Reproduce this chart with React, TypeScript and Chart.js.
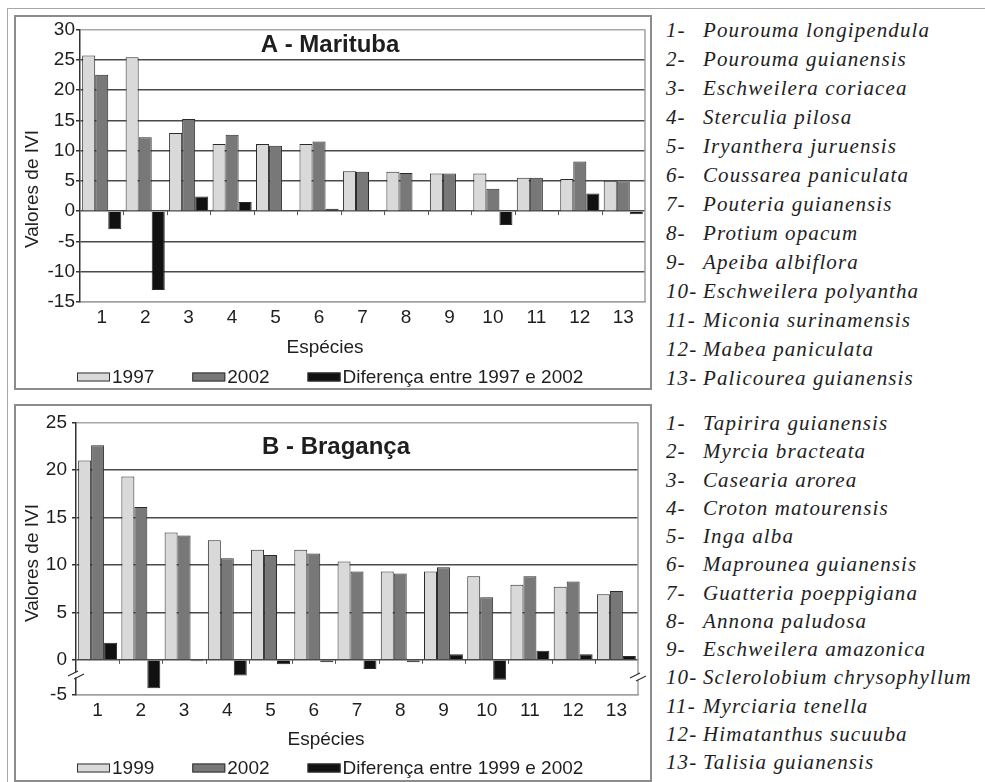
import React, { useEffect, useRef } from "react";
import { Chart, registerables } from "chart.js";

Chart.register(...registerables);

const SANS = '"Liberation Sans", Arial, Helvetica, sans-serif';
const SERIF = '"Liberation Serif", "Times New Roman", Times, serif';
const INK = "#1e1e1e";

// Species numbers along the x axis
const speciesNumbers = ["1", "2", "3", "4", "5", "6", "7", "8", "9", "10", "11", "12", "13"];

// A - Marituba: IVI values
const maritubaIvi1997 = [25.7, 25.4, 12.9, 11.1, 11.1, 11.1, 6.6, 6.5, 6.2, 6.2, 5.5, 5.3, 5.0];
const maritubaIvi2002 = [22.5, 12.2, 15.2, 12.6, 10.8, 11.5, 6.5, 6.3, 6.2, 3.7, 5.5, 8.2, 4.9];
const maritubaDiff = [-3.0, -13.0, 2.4, 1.5, 0, 0.4, -0.15, 0, 0, -2.3, 0.2, 2.9, -0.5];
const maritubaTicks = [-15, -10, -5, 0, 5, 10, 15, 20, 25, 30];

// B - Bragança: IVI values
const bragancaIvi1999 = [21.0, 19.3, 13.4, 12.6, 11.6, 11.6, 10.35, 9.3, 9.3, 8.8, 7.9, 7.7, 6.9];
const bragancaIvi2002 = [22.6, 16.1, 13.1, 10.7, 11.05, 11.2, 9.3, 9.1, 9.75, 6.6, 8.8, 8.25, 7.25];
const bragancaDiff = [1.8, -3.0, -0.15, -1.65, -0.45, -0.25, -0.95, -0.25, 0.6, -2.1, 0.95, 0.6, 0.4];
const bragancaTicks = [-5, 0, 5, 10, 15, 20, 25];
// the y axis is broken below zero: the "-5" label sits on the truncated floor
const bragancaAxisFloor = -3.7;

const maritubaSpecies = [
  "Pourouma longipendula",
  "Pourouma guianensis",
  "Eschweilera coriacea",
  "Sterculia pilosa",
  "Iryanthera juruensis",
  "Coussarea paniculata",
  "Pouteria guianensis",
  "Protium opacum",
  "Apeiba albiflora",
  "Eschweilera polyantha",
  "Miconia surinamensis",
  "Mabea paniculata",
  "Palicourea guianensis",
];

const bragancaSpecies = [
  "Tapirira guianensis",
  "Myrcia bracteata",
  "Casearia arorea",
  "Croton matourensis",
  "Inga alba",
  "Maprounea guianensis",
  "Guatteria poeppigiana",
  "Annona paludosa",
  "Eschweilera amazonica",
  "Sclerolobium chrysophyllum",
  "Myrciaria tenella",
  "Himatanthus sucuuba",
  "Talisia guianensis",
];

const COLOR_FIRST = "#d9d9d9";
const COLOR_SECOND = "#787878";
const COLOR_DIFF = "#111111";

type Deco = {
  title: string;
  titleX: number;
  titleY: number;
  yTitleX: number;
  yTitleY: number;
  xTitleX: number;
  xTitleY: number;
  legendX: number;
  legendY: number;
  breakLeftY?: number;
  breakRightY?: number;
};

function drawBreak(ctx: CanvasRenderingContext2D, x: number, y: number) {
  ctx.save();
  ctx.fillStyle = "#ffffff";
  ctx.fillRect(x - 3, y - 2.5, 6, 5);
  ctx.strokeStyle = "#333";
  ctx.lineWidth = 1.2;
  ctx.beginPath();
  ctx.moveTo(x - 8, y + 1);
  ctx.lineTo(x + 2, y - 4);
  ctx.moveTo(x - 2, y + 4);
  ctx.lineTo(x + 8, y - 1);
  ctx.stroke();
  ctx.restore();
}

function decorations(d: Deco) {
  return {
    id: "panelDecorations",
    beforeDatasetsDraw(chart: any) {
      const { ctx, chartArea: a, scales } = chart;
      ctx.save();
      // right side of the plot frame
      ctx.strokeStyle = "#a0a0a0";
      ctx.lineWidth = 1.5;
      ctx.beginPath();
      ctx.moveTo(a.right, a.top);
      ctx.lineTo(a.right, a.bottom);
      ctx.stroke();
      // category separators hanging below the zero line
      const y0 = scales.y.getPixelForValue(0);
      const n = chart.data.labels.length;
      const w = (a.right - a.left) / n;
      ctx.strokeStyle = "#555";
      ctx.lineWidth = 1;
      ctx.beginPath();
      for (let i = 1; i < n; i++) {
        const x = Math.round(a.left + i * w) + 0.5;
        ctx.moveTo(x, y0);
        ctx.lineTo(x, y0 + 4);
      }
      ctx.stroke();
      ctx.restore();
    },
    afterDraw(chart: any) {
      const { ctx, chartArea: a } = chart;
      ctx.save();
      ctx.fillStyle = INK;
      ctx.textBaseline = "middle";

      // panel title
      ctx.font = `bold 24px ${SANS}`;
      ctx.textAlign = "center";
      ctx.fillText(d.title, d.titleX, d.titleY);

      // axis titles
      ctx.font = `19px ${SANS}`;
      ctx.fillText("Espécies", d.xTitleX, d.xTitleY);
      ctx.save();
      ctx.translate(d.yTitleX, d.yTitleY);
      ctx.rotate(-Math.PI / 2);
      ctx.fillText("Valores de IVI", 0, 0);
      ctx.restore();

      // legend
      let x = d.legendX;
      ctx.textAlign = "left";
      chart.data.datasets.forEach((ds: any) => {
        ctx.fillStyle = ds.backgroundColor;
        ctx.fillRect(x, d.legendY - 4.5, 33, 9);
        ctx.strokeStyle = "#333";
        ctx.lineWidth = 1;
        ctx.strokeRect(x + 0.5, d.legendY - 4, 32, 8);
        x += 35;
        ctx.fillStyle = INK;
        ctx.fillText(ds.label, x, d.legendY + 1);
        x += ctx.measureText(ds.label).width + 38;
      });

      // axis break marks
      if (d.breakLeftY !== undefined) drawBreak(ctx, a.left, d.breakLeftY);
      if (d.breakRightY !== undefined) drawBreak(ctx, a.right, d.breakRightY);
      ctx.restore();
    },
  };
}

type PanelProps = {
  left: number;
  top: number;
  width: number;
  height: number;
  series: { label: string; data: number[]; color: string }[];
  yMin: number;
  yMax: number;
  yTicks: number[];
  yFloorLabel?: string;
  padTop: number;
  padRight: number;
  yAxisWidth: number;
  xAxisHeight: number;
  yTickPadding: number;
  deco: Deco;
};

function BarPanel(p: PanelProps) {
  const ref = useRef<HTMLCanvasElement>(null);

  useEffect(() => {
    const canvas = ref.current;
    if (!canvas) return;
    const chart = new Chart(canvas, {
      type: "bar",
      data: {
        labels: speciesNumbers,
        datasets: p.series.map((s) => ({
          label: s.label,
          data: s.data,
          backgroundColor: s.color,
          borderColor: "#2a2a2a",
          borderWidth: 1,
          barPercentage: 1,
          categoryPercentage: 0.9,
        })),
      },
      options: {
        responsive: false,
        maintainAspectRatio: false,
        animation: false,
        events: [],
        layout: { padding: { top: p.padTop, right: p.padRight, left: 0, bottom: 0 } },
        plugins: {
          legend: { display: false },
          tooltip: { enabled: false },
          title: { display: false },
        },
        scales: {
          x: {
            grid: { display: true, drawOnChartArea: false, drawTicks: false },
            border: { color: "#a0a0a0", width: 1.5 },
            ticks: { color: INK, font: { family: SANS, size: 19 }, padding: 4, maxRotation: 0 },
            afterFit: (s: any) => {
              s.height = p.xAxisHeight;
            },
          },
          y: {
            min: p.yMin,
            max: p.yMax,
            afterBuildTicks: (s: any) => {
              s.ticks = p.yTicks.map((v) => ({ value: Math.max(v, p.yMin) }));
            },
            afterFit: (s: any) => {
              s.width = p.yAxisWidth;
            },
            ticks: {
              color: INK,
              font: { family: SANS, size: 19 },
              padding: p.yTickPadding,
              callback: (v: any) =>
                p.yFloorLabel !== undefined && v === p.yMin ? p.yFloorLabel : String(v),
            },
            grid: {
              lineWidth: 1.5,
              tickLength: 4,
              tickColor: "#333",
              color: (c: any) =>
                c.tick && (c.tick.value === c.scale.min || c.tick.value === c.scale.max)
                  ? "#a8a8a8"
                  : "#4a4a4a",
            },
            border: { color: "#333", width: 1.5 },
          },
        },
      },
      plugins: [decorations(p.deco)],
    } as any);
    return () => chart.destroy();
  }, []);

  return (
    <canvas
      ref={ref}
      width={p.width}
      height={p.height}
      style={{ position: "absolute", left: p.left, top: p.top, display: "block" }}
    />
  );
}

function SpeciesList(props: { names: string[]; top: number; rowHeight: number }) {
  return (
    <div
      style={{
        position: "absolute",
        left: 666,
        top: props.top,
        fontFamily: SERIF,
        fontStyle: "italic",
        fontSize: 21,
        letterSpacing: "1.1px",
        color: INK,
        whiteSpace: "nowrap",
      }}
    >
      {props.names.map((n, i) => (
        <div key={n} style={{ height: props.rowHeight, lineHeight: `${props.rowHeight}px` }}>
          <span style={{ display: "inline-block", width: 37 }}>{`${i + 1}-`}</span>
          {n}
        </div>
      ))}
    </div>
  );
}

export default function App() {
  return (
    <div
      style={{
        position: "fixed",
        left: 0,
        top: 0,
        width: 985,
        height: 782,
        overflow: "hidden",
        background: "#ffffff",
      }}
    >
      {/* outer figure frame */}
      <div
        style={{
          position: "absolute",
          left: 7,
          top: 8,
          right: 0,
          bottom: 0,
          borderTop: "1px solid #a8a8a8",
          borderLeft: "1px solid #a8a8a8",
        }}
      />
      {/* panel frames */}
      <div
        style={{
          position: "absolute",
          left: 14,
          top: 15,
          width: 634,
          height: 371,
          border: "2px solid #8c8c8c",
        }}
      />
      <div
        style={{
          position: "absolute",
          left: 14,
          top: 404,
          width: 634,
          height: 374,
          border: "2px solid #8c8c8c",
        }}
      />

      <BarPanel
        left={16}
        top={17}
        width={634}
        height={371}
        series={[
          { label: "1997", data: maritubaIvi1997, color: COLOR_FIRST },
          { label: "2002", data: maritubaIvi2002, color: COLOR_SECOND },
          { label: "Diferença entre 1997 e 2002", data: maritubaDiff, color: COLOR_DIFF },
        ]}
        yMin={-15}
        yMax={30}
        yTicks={maritubaTicks}
        padTop={12}
        padRight={5}
        yAxisWidth={64}
        xAxisHeight={86}
        yTickPadding={1}
        deco={{
          title: "A - Marituba",
          titleX: 314,
          titleY: 28,
          yTitleX: 17,
          yTitleY: 172,
          xTitleX: 309,
          xTitleY: 331,
          legendX: 61,
          legendY: 360,
        }}
      />

      <BarPanel
        left={16}
        top={406}
        width={634}
        height={374}
        series={[
          { label: "1999", data: bragancaIvi1999, color: COLOR_FIRST },
          { label: "2002", data: bragancaIvi2002, color: COLOR_SECOND },
          { label: "Diferença entre 1999 e 2002", data: bragancaDiff, color: COLOR_DIFF },
        ]}
        yMin={bragancaAxisFloor}
        yMax={25}
        yTicks={bragancaTicks}
        yFloorLabel="-5"
        padTop={16}
        padRight={12}
        yAxisWidth={60}
        xAxisHeight={85}
        yTickPadding={5}
        deco={{
          title: "B - Bragança",
          titleX: 320,
          titleY: 41,
          yTitleX: 17,
          yTitleY: 157,
          xTitleX: 310,
          xTitleY: 334,
          legendX: 61,
          legendY: 362,
          breakLeftY: 269,
          breakRightY: 271,
        }}
      />

      <SpeciesList names={maritubaSpecies} top={15.5} rowHeight={29} />
      <SpeciesList names={bragancaSpecies} top={409} rowHeight={28.25} />
    </div>
  );
}
